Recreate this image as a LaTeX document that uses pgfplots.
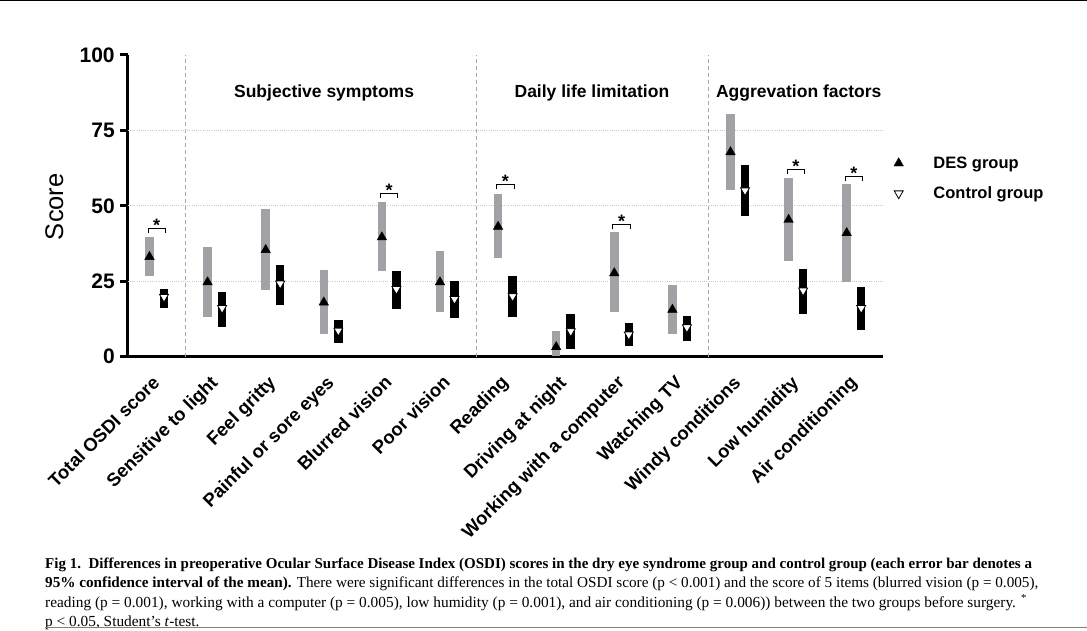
\documentclass[border=0pt]{standalone}
\usepackage{fontspec}
\setmainfont{Liberation Sans}
\newfontfamily\capfont{Liberation Serif}
\usepackage{pgfplots}
\usepackage{pgfplotstable}
\pgfplotsset{compat=1.18}
\definecolor{desgray}{HTML}{A2A2A6}
\definecolor{gridgray}{HTML}{C8C8C8}
\definecolor{sepgray}{HTML}{A8A8A8}

% idx, DES mean / lower / upper, control mean / lower / upper
\pgfplotstableread{
idx dm   dlo  dhi  cm   clo  chi
0   33.1 26.6 39.6 19.8 16.1 22.5
1   24.7 13.1 36.5 16.1 10.0 21.6
2   35.4 22.2 49.0 24.2 17.2 30.5
3   18.0  7.6 28.8  8.6  4.5 12.3
4   39.6 28.3 51.2 22.4 15.8 28.3
5   24.7 14.9 34.9 19.1 12.7 25.2
6   43.1 32.6 54.0 20.0 13.1 26.6
7    3.2  0.1  8.4  8.4  2.6 14.1
8   27.7 14.8 41.2  7.3  3.4 11.2
9   15.6  7.5 23.8  9.7  5.3 13.6
10  67.8 55.3 80.5 55.1 46.5 63.6
11  45.4 31.8 59.3 21.9 14.2 29.0
12  41.0 24.9 57.1 16.1  8.9 23.1
}\osdi

% significance brackets
\pgfplotstableread{
idx y
0  42.6
4  54.0
6  57.0
8  43.7
11 61.9
12 59.7
}\sig

\begin{document}
\begin{tikzpicture}
\path[use as bounding box] (0,0) rectangle (1087bp,631bp);
\draw[line width=1.3bp] (0,630.2bp) -- (1087bp,630.2bp);
\begin{axis}[
  at={(127.7bp,274.3bp)}, anchor=south west,
  scale only axis, width=755.3bp, height=301.7bp,
  xmin=-0.5, xmax=12.5, ymin=0, ymax=100,
  axis lines=left,
  axis line style={line width=3bp, -},
  xtick={0,...,12},
  xticklabels={Total OSDI score, Sensitive to light, Feel gritty, Painful or sore eyes, Blurred vision, Poor vision, Reading, Driving at night, Working with a computer, Watching TV, Windy conditions, Low humidity, Air conditioning},
  x tick label style={rotate=45, anchor=north east, inner sep=0pt, xshift=-11bp, yshift=-3bp, font=\bfseries\fontsize{18.5bp}{22bp}\selectfont},
  x tick style={draw=none},
  ytick={0,25,50,75,100},
  y tick style={line width=3bp, black},
  tick align=outside,
  major tick length=7.5bp,
  y tick label style={xshift=-2bp, font=\bfseries\fontsize{21bp}{25bp}\selectfont},
  /pgf/number format/assume math mode=true,
  extra y ticks={25,50,75},
  extra y tick labels={},
  extra y tick style={grid=major, major tick length=0pt, grid style={gridgray, line width=0.9bp, dash pattern=on 1bp off 1.2bp}},
  extra x ticks={0.5,5.5,9.5},
  extra x tick labels={},
  extra x tick style={grid=major, major tick length=0pt, grid style={sepgray, line width=1.2bp, dash pattern=on 3.5bp off 3.5bp}},
  legend style={draw=none, fill=none, at={(1.0142,0.670)}, anchor=north west, inner sep=0pt,
    row sep=13bp, column sep=28bp, font=\bfseries\fontsize{16.5bp}{19bp}\selectfont},
  legend cell align=left,
  legend image code/.code={\draw[#1] plot coordinates {(0bp,0bp)};},
]
% confidence interval bars
\addplot[forget plot, only marks, mark=none,
  error bars/.cd, y dir=both, y explicit, error mark=none,
  error bar style={line width=8.5bp, draw=desgray, solid}]
  table[x expr=\thisrow{idx}-0.125, y=dm,
        y error plus expr=\thisrow{dhi}-\thisrow{dm},
        y error minus expr=\thisrow{dm}-\thisrow{dlo}] {\osdi};
\addplot[forget plot, only marks, mark=none,
  error bars/.cd, y dir=both, y explicit, error mark=none,
  error bar style={line width=8.5bp, draw=black, solid}]
  table[x expr=\thisrow{idx}+0.125, y=cm,
        y error plus expr=\thisrow{chi}-\thisrow{cm},
        y error minus expr=\thisrow{cm}-\thisrow{clo}] {\osdi};
% means
\addplot[only marks, mark=triangle*, mark size=5.5bp, mark options={fill=black, draw=black}]
  table[x expr=\thisrow{idx}-0.125, y=dm] {\osdi};
\addlegendentry{DES group}
\addplot[only marks, mark=triangle*, mark size=5.2bp, mark options={rotate=180, fill=white, draw=black, line width=0.8bp}]
  table[x expr=\thisrow{idx}+0.125, y=cm] {\osdi};
\addlegendentry{Control group}
% significance
\addplot[forget plot, black, line width=1bp] coordinates {(-0.15,41.1)(-0.15,42.6)(0.15,42.6)(0.15,41.1)};
\addplot[forget plot, black, line width=1bp] coordinates {(3.85,52.5)(3.85,54.0)(4.15,54.0)(4.15,52.5)};
\addplot[forget plot, black, line width=1bp] coordinates {(5.85,55.5)(5.85,57.0)(6.15,57.0)(6.15,55.5)};
\addplot[forget plot, black, line width=1bp] coordinates {(7.85,42.2)(7.85,43.7)(8.15,43.7)(8.15,42.2)};
\addplot[forget plot, black, line width=1bp] coordinates {(10.85,60.4)(10.85,61.9)(11.15,61.9)(11.15,60.4)};
\addplot[forget plot, black, line width=1bp] coordinates {(11.85,58.2)(11.85,59.7)(12.15,59.7)(12.15,58.2)};
\addplot[forget plot, only marks, mark=none, nodes near coords={*},
  nodes near coords style={anchor=base, inner sep=0pt, yshift=-3bp, font=\bfseries\fontsize{18bp}{20bp}\selectfont}]
  table[x=idx, y=y] {\sig};
% group headings
\node[anchor=base, font=\bfseries\fontsize{17.5bp}{20bp}\selectfont] at (axis cs:2.88,85.9) {Subjective symptoms};
\node[anchor=base, font=\bfseries\fontsize{17.5bp}{20bp}\selectfont] at (axis cs:7.49,85.9) {Daily life limitation};
\node[anchor=base, font=\bfseries\fontsize{17.5bp}{20bp}\selectfont] at (axis cs:11.05,85.9) {Aggrevation factors};
\end{axis}
\node[rotate=90, font=\fontsize{25.5bp}{28bp}\selectfont] at (54.3bp,424.3bp) {Score};
% caption
\begin{scope}[every node/.style={anchor=base west, inner sep=0pt, font=\capfont\fontsize{15.35bp}{19bp}\selectfont}]
\node[font=\capfont\fontsize{15bp}{19bp}\selectfont] at (45bp,62bp) {\bfseries Fig 1.\ \ Differences in preoperative Ocular Surface Disease Index (OSDI) scores in the dry eye syndrome group and control group (each error bar denotes a};
\node[font=\capfont\fontsize{15.2bp}{19bp}\selectfont] at (45bp,43bp) {\textbf{95\% confidence interval of the mean).} There were significant differences in the total OSDI score (p < 0.001) and the score of 5 items (blurred vision (p = 0.005),};
\node at (45bp,24bp) {reading (p = 0.001), working with a computer (p = 0.005), low humidity (p = 0.001), and air conditioning (p = 0.006)) between the two groups before surgery. \textsuperscript{*}};
\node at (45bp,5bp) {p < 0.05, Student’s \textit{t}-test.};
\end{scope}
\draw[gray, line width=1.3bp] (45bp,3.3bp) -- (1087bp,3.3bp);
\end{tikzpicture}
\end{document}
